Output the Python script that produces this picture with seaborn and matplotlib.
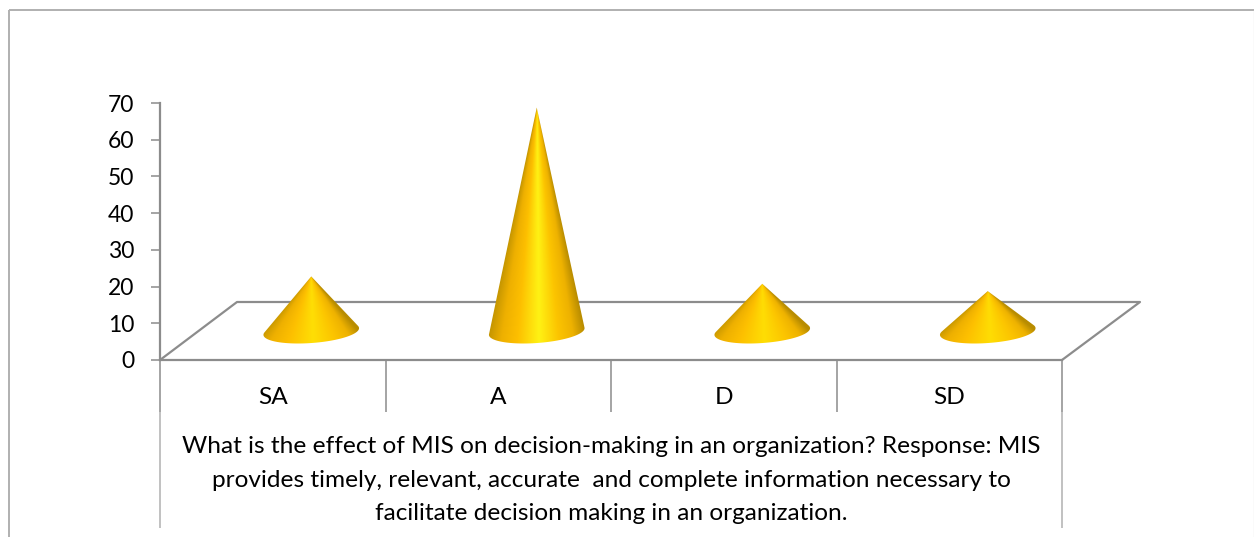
import numpy as np
import matplotlib
matplotlib.use('Agg')
import matplotlib.pyplot as plt
from matplotlib.colors import LinearSegmentedColormap, to_rgb
from matplotlib.lines import Line2D
from matplotlib.patches import Polygon
from matplotlib.transforms import IdentityTransform
import seaborn as sns

categories = ['SA', 'A', 'D', 'SD']
values = [15, 61, 13, 11]
y_ticks = [0, 10, 20, 30, 40, 50, 60, 70]
question = ('What is the effect of MIS on decision-making in an organization? Response: MIS\n'
            'provides timely, relevant, accurate  and complete information necessary to\n'
            'facilitate decision making in an organization.')

W, H = 1254, 537
GREY = '#8c8c8c'
LIGHT = '#b0b0b0'

sns.set_theme(style='white')
plt.rcParams['font.family'] = ['Lato', 'DejaVu Sans']

fig = plt.figure(figsize=(W / 100, H / 100), dpi=100, facecolor='white')
ax = fig.add_axes([160 / W, 1 - 360 / H, (1062 - 160) / W, (360 - 103) / H])
ax.patch.set_alpha(0)

sns.barplot(x=categories, y=values, width=0.425, ax=ax)
ax.set_xlim(-0.5, 3.5)
ax.set_ylim(0, 70)
ax.set_yticks(y_ticks)

for side in ['top', 'right']:
    ax.spines[side].set_visible(False)
for side in ['left', 'bottom']:
    ax.spines[side].set_color(GREY)
    ax.spines[side].set_linewidth(1.6)

ax.tick_params(axis='y', length=6.5, width=1.1, color=GREY, pad=12, labelsize=16.5,
               left=True, labelcolor='black')
ax.tick_params(axis='x', length=0, pad=19.5, labelsize=17.6, labelcolor='black')
ax.set_xlabel(question, fontsize=17.6, color='black', linespacing=1.76, ha='center', va='center')
ax.xaxis.set_label_coords(0.5, -0.467)


def page_line(xs, ys, color=GREY, lw=1.1):
    # xs, ys in picture pixels, y counted from the top, drawn behind the axes
    fig.add_artist(Line2D(np.array(xs) / W, 1 - np.array(ys) / H, color=color, lw=lw,
                          transform=fig.transFigure, solid_capstyle='butt', zorder=-1))


# chart frame
page_line([8.5, 8.5], [537, 9.5], LIGHT, 1.4)
page_line([8.5, 1253.5], [9.5, 9.5], LIGHT, 1.4)
page_line([1253.5, 1253.5], [9.5, 537], '#e6e6e6', 1.0)

# floor of the 3d box
floor_x = [160, 237, 1140, 1062]
floor_y = [360, 302, 302, 360]
page_line(floor_x, floor_y, GREY, 1.6)

# category dividers under the axis
for i, x in enumerate(np.linspace(160, 1062, len(categories) + 1)):
    page_line([x, x], [360, 412], GREY, 1.1)
    if i in (0, len(categories)):
        page_line([x, x], [412, 528], LIGHT, 1.1)

# turn the bars into shaded cones
fig.canvas.draw()
shade = ['#c49500', '#eeb000', '#fdbf00', '#ffe000', '#fcc400', '#eeb200', '#b88c00']
stops = [0.0, 0.14, 0.3, 0.52, 0.72, 0.87, 1.0]
tilt = np.deg2rad(4.2)
minor = 11.5
for bar in list(ax.patches):
    bar.set_visible(False)
    (x0, y0), (x1, y1) = ax.transData.transform([
        (bar.get_x(), 0), (bar.get_x() + bar.get_width(), bar.get_height())])
    radius = (x1 - x0) / 2
    cx, cy = (x0 + x1) / 2 + 38.5, y0 + 28.5
    top_x, top_y = cx, y1 + 28.5
    # tangent point of the side on the base ellipse
    t0 = np.arcsin(minor / (top_y - cy))
    t = np.linspace(t0, -np.pi - t0, 80)
    ex = cx + radius * np.cos(t) * np.cos(tilt) - minor * np.sin(t) * np.sin(tilt)
    ey = cy + radius * np.cos(t) * np.sin(tilt) + minor * np.sin(t) * np.cos(tilt)
    outline = np.column_stack([np.r_[top_x, ex], np.r_[top_y, ey]])

    # highlight gets stronger on the tall cone
    mix = bar.get_height() / max(values)
    colors = list(shade)
    colors[3] = tuple(np.array(to_rgb('#ffd800')) * (1 - mix) + np.array(to_rgb('#fff214')) * mix)
    cmap = LinearSegmentedColormap.from_list('cone', list(zip(stops, colors)))

    left, right = cx - radius - 3, cx + radius + 3
    low, high = cy - minor - 6, top_y + 1
    gx, gy = np.meshgrid(np.arange(left, right, 0.5), np.arange(low, high, 0.5))
    half = radius * np.maximum(top_y - gy, 0.01) / (top_y - cy)
    u = np.clip((gx - cx) / half, -1, 1)
    im = ax.imshow(u, cmap=cmap, vmin=-1, vmax=1, origin='lower', aspect='auto',
                   extent=(left, right, low, high), transform=IdentityTransform(),
                   interpolation='bilinear', zorder=5)
    im.set_clip_path(Polygon(outline, closed=True, transform=IdentityTransform()))

ax.set_xlim(-0.5, 3.5)
ax.set_ylim(0, 70)
fig.savefig('out.png', dpi=100)
